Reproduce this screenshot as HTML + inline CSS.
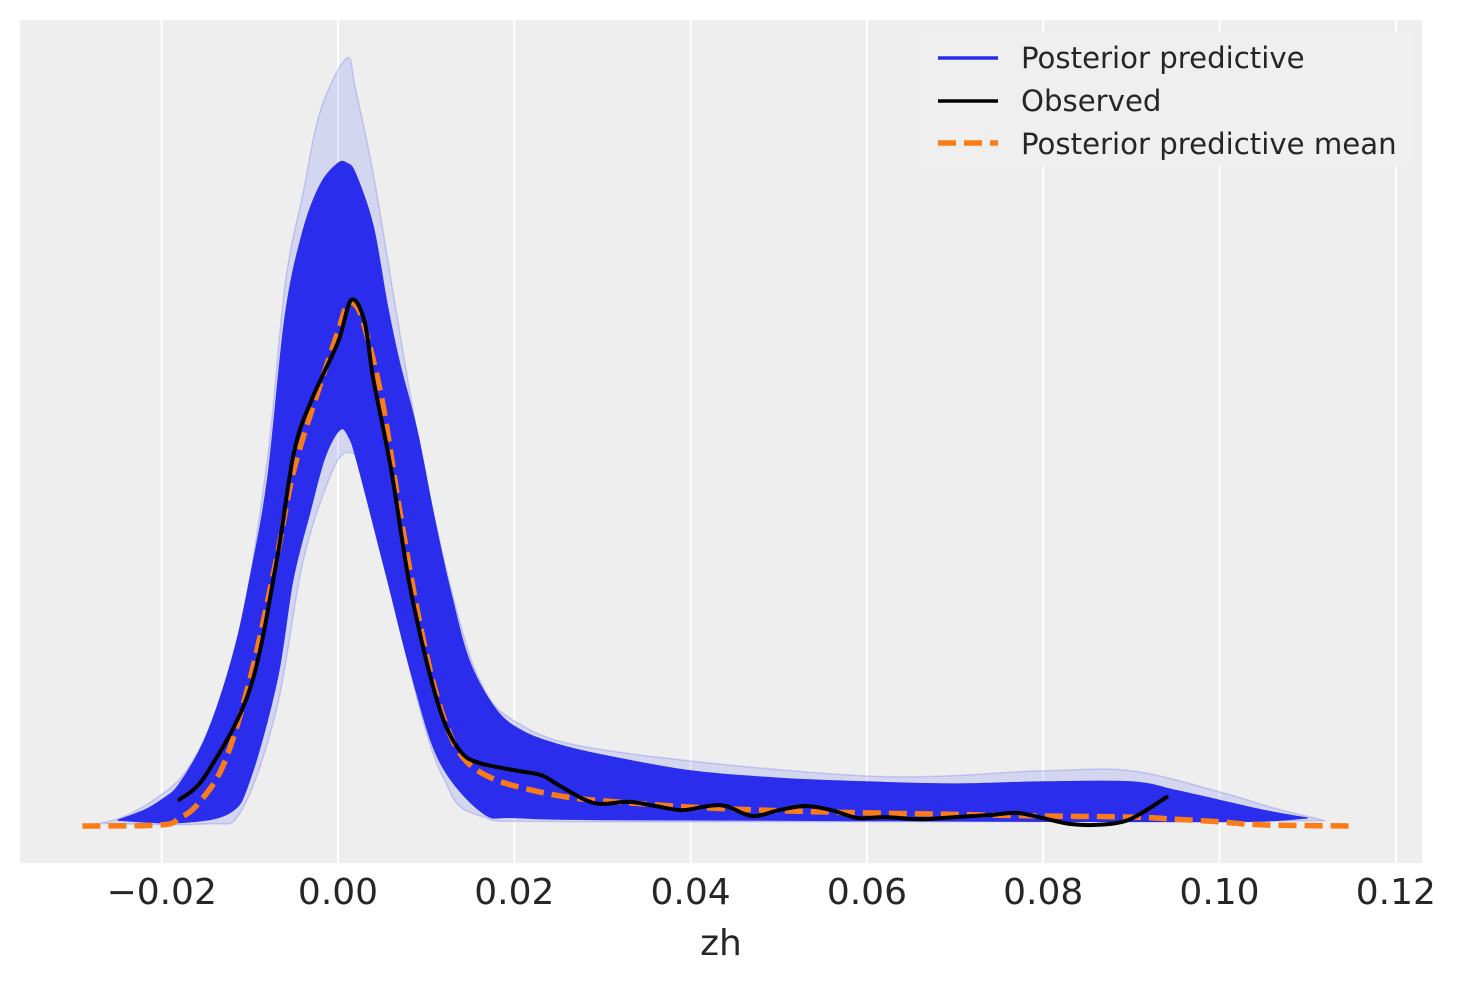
<!DOCTYPE html>
<html><head><meta charset="utf-8">
<style>
html,body{margin:0;padding:0;background:#fff;}
svg{display:block;font-family:"DejaVu Sans","Liberation Sans",sans-serif;}
</style></head>
<body>
<svg id="chart" width="1463" height="983" viewBox="0 0 1463 983">
  <rect x="20" y="20" width="1402" height="843" fill="#eeeeee"/>
  <g id="grid"></g>
  <g id="bands"></g>
  <g id="lines"></g>
  <g id="xticks"></g>
  <text x="721" y="955" font-size="36" fill="#262626" text-anchor="middle">zh</text>
  <g>
    <rect x="918" y="32" width="494" height="134" fill="#efefef"/>
    <line x1="938" y1="58" x2="998" y2="58" stroke="#2a2eec" stroke-width="3.5"/>
    <text x="1021" y="68" font-size="29.2" fill="#262626">Posterior predictive</text>
    <line x1="938" y1="101" x2="998" y2="101" stroke="#000" stroke-width="3.5"/>
    <text x="1021" y="111" font-size="29.2" fill="#262626">Observed</text>
    <line x1="938" y1="143" x2="998" y2="143" stroke="#fa7c17" stroke-width="5.5" stroke-dasharray="18,8"/>
    <text x="1021" y="154" font-size="29.2" fill="#262626">Posterior predictive mean</text>
  </g>
</svg>
<script>
const tickValues = [-0.02, 0.00, 0.02, 0.04, 0.06, 0.08, 0.10, 0.12];
const tickLabels = ["\u22120.02", "0.00", "0.02", "0.04", "0.06", "0.08", "0.10", "0.12"];

const obsX = [-0.018,-0.015,-0.01,-0.007,-0.005,-0.003,0.0,0.0015,0.003,0.004,0.006,0.008,0.010,0.012,0.014,0.016,0.020,0.023,0.025,0.028,0.030,0.033,0.036,0.039,0.042,0.044,0.047,0.050,0.053,0.056,0.059,0.062,0.066,0.070,0.074,0.077,0.080,0.083,0.086,0.089,0.091,0.094];
const obsY = [5,9.7,26,50,71,81,92,100,96,85,68,47,31.6,20,14,12,10.6,9.7,7.8,5,4.2,4.6,3.8,3,3.8,3.8,1.9,3,3.8,3,1.5,1.7,1.3,1.7,2.1,2.5,1.5,0.4,0.2,0.8,2.3,5.5];

const meanX = [-0.029,-0.02,-0.018,-0.016,-0.013,-0.01,-0.007,-0.005,-0.002,0.0,0.001,0.002,0.003,0.005,0.007,0.009,0.011,0.013,0.015,0.018,0.022,0.026,0.030,0.040,0.050,0.060,0.070,0.080,0.090,0.095,0.100,0.105,0.115];
const meanY = [0,0.2,1.5,4,11.6,27.8,50.6,67.7,84,94,99,99,95,81,60,41,26,16.3,11.6,8.7,6.8,5.5,4.8,3.6,2.9,2.5,2.2,1.9,1.7,1.3,0.8,0.2,0];

const bandUpX = [-0.025,-0.022,-0.02,-0.018,-0.015,-0.012,-0.010,-0.008,-0.006,-0.004,-0.002,0.0,0.001,0.002,0.004,0.0056,0.007,0.009,0.011,0.013,0.015,0.018,0.021,0.025,0.030,0.040,0.050,0.060,0.070,0.080,0.090,0.095,0.100,0.105,0.110];
const bandUpY = [1.1,3,5,8,17,32,47,66,97,113,122,126,126,124,114,99,88,75,58,43,31,22,18,15.5,13.5,10.5,9.1,8.4,8,8.4,8.4,6.8,4.9,3,1.5];
const bandLoX = [-0.025,-0.018,-0.0123,-0.010,-0.0069,-0.0051,-0.0032,-0.0015,0.0002,0.0012,0.0022,0.0056,0.0085,0.0116,0.0164,0.020,0.030,0.060,0.100,0.110];
const bandLoY = [1.1,0.6,2.5,8.7,27.8,46.8,59.5,70,75.3,74,69,46.8,27.8,12,2.5,1.6,1.2,1,0.8,1.5];

const outerUpX = [-0.027,-0.024,-0.02,-0.017,-0.014,-0.011,-0.008,-0.006,-0.004,-0.002,0.001,0.002,0.004,0.006,0.008,0.010,0.013,0.016,0.020,0.030,0.060,0.080,0.090,0.100,0.106,0.112];
const outerUpY = [0.5,2,6,11,21,38,70,103,120,136,146,140,124,104,84,66,44,28,20,14.5,9.5,10.5,10.5,6.5,3.5,1];
const outerLoX = [-0.027,-0.015,-0.011,-0.007,-0.004,-0.001,0.001,0.003,0.006,0.009,0.012,0.016,0.030,0.112];
const outerLoY = [0.5,0.4,2.8,22,50,66,71,67,47,24,9,2,0.8,1];

const X0 = 338, XS = 8815, Y0 = 826, YS = 5.26;
function xPix(v){ return X0 + v*XS; }
function yPix(d){ return Y0 - d*YS; }

function smoothPath(xs, ys, move){
  const p = xs.map((x,i)=>[xPix(x), yPix(ys[i])]);
  let d = (move===false ? "L" : "M") + p[0][0].toFixed(1)+","+p[0][1].toFixed(1);
  for(let i=0;i<p.length-1;i++){
    const p0=p[i-1]||p[i], p1=p[i], p2=p[i+1], p3=p[i+2]||p[i+1];
    const c1=[p1[0]+(p2[0]-p0[0])/6, p1[1]+(p2[1]-p0[1])/6];
    const c2=[p2[0]-(p3[0]-p1[0])/6, p2[1]-(p3[1]-p1[1])/6];
    d+=" C"+c1[0].toFixed(1)+","+c1[1].toFixed(1)+" "+c2[0].toFixed(1)+","+c2[1].toFixed(1)+" "+p2[0].toFixed(1)+","+p2[1].toFixed(1);
  }
  return d;
}
function bandPath(ux, uy, lx, ly){
  return smoothPath(ux, uy) + " " + smoothPath(lx.slice().reverse(), ly.slice().reverse(), false) + " Z";
}
const NS = "http://www.w3.org/2000/svg";
function mk(tag, attrs, parent){
  const el = document.createElementNS(NS, tag);
  for(const k in attrs) el.setAttribute(k, attrs[k]);
  parent.appendChild(el);
  return el;
}

const grid = document.getElementById("grid");
const xt = document.getElementById("xticks");
tickValues.forEach((v,i)=>{
  const g = mk("line", {x1:xPix(v), x2:xPix(v), y1:20, y2:863, stroke:"#fff", "stroke-width":2}, grid);
  
  
  const t = mk("text", {x:xPix(v), y:904, "font-size":36, fill:"#262626", "text-anchor":"middle"}, xt);
  t.textContent = tickLabels[i];
  
  
});

const bands = document.getElementById("bands");
const outer = mk("path", {d:bandPath(outerUpX, outerUpY, outerLoX, outerLoY), fill:"#2a2eec", "fill-opacity":0.13, stroke:"#2a2eec", "stroke-opacity":0.18, "stroke-width":1.5}, bands);


const band = mk("path", {d:bandPath(bandUpX, bandUpY, bandLoX, bandLoY), fill:"#2a2eec", stroke:"#2a2eec", "stroke-width":1}, bands);



const lines = document.getElementById("lines");
const mean = mk("path", {d:smoothPath(meanX, meanY), fill:"none", stroke:"#fa7c17", "stroke-width":5.5, "stroke-dasharray":"18,8"}, lines);


const obs = mk("path", {d:smoothPath(obsX, obsY), fill:"none", stroke:"#000", "stroke-width":4, "stroke-linejoin":"round", "stroke-linecap":"round"}, lines);


</script>
</body></html>
